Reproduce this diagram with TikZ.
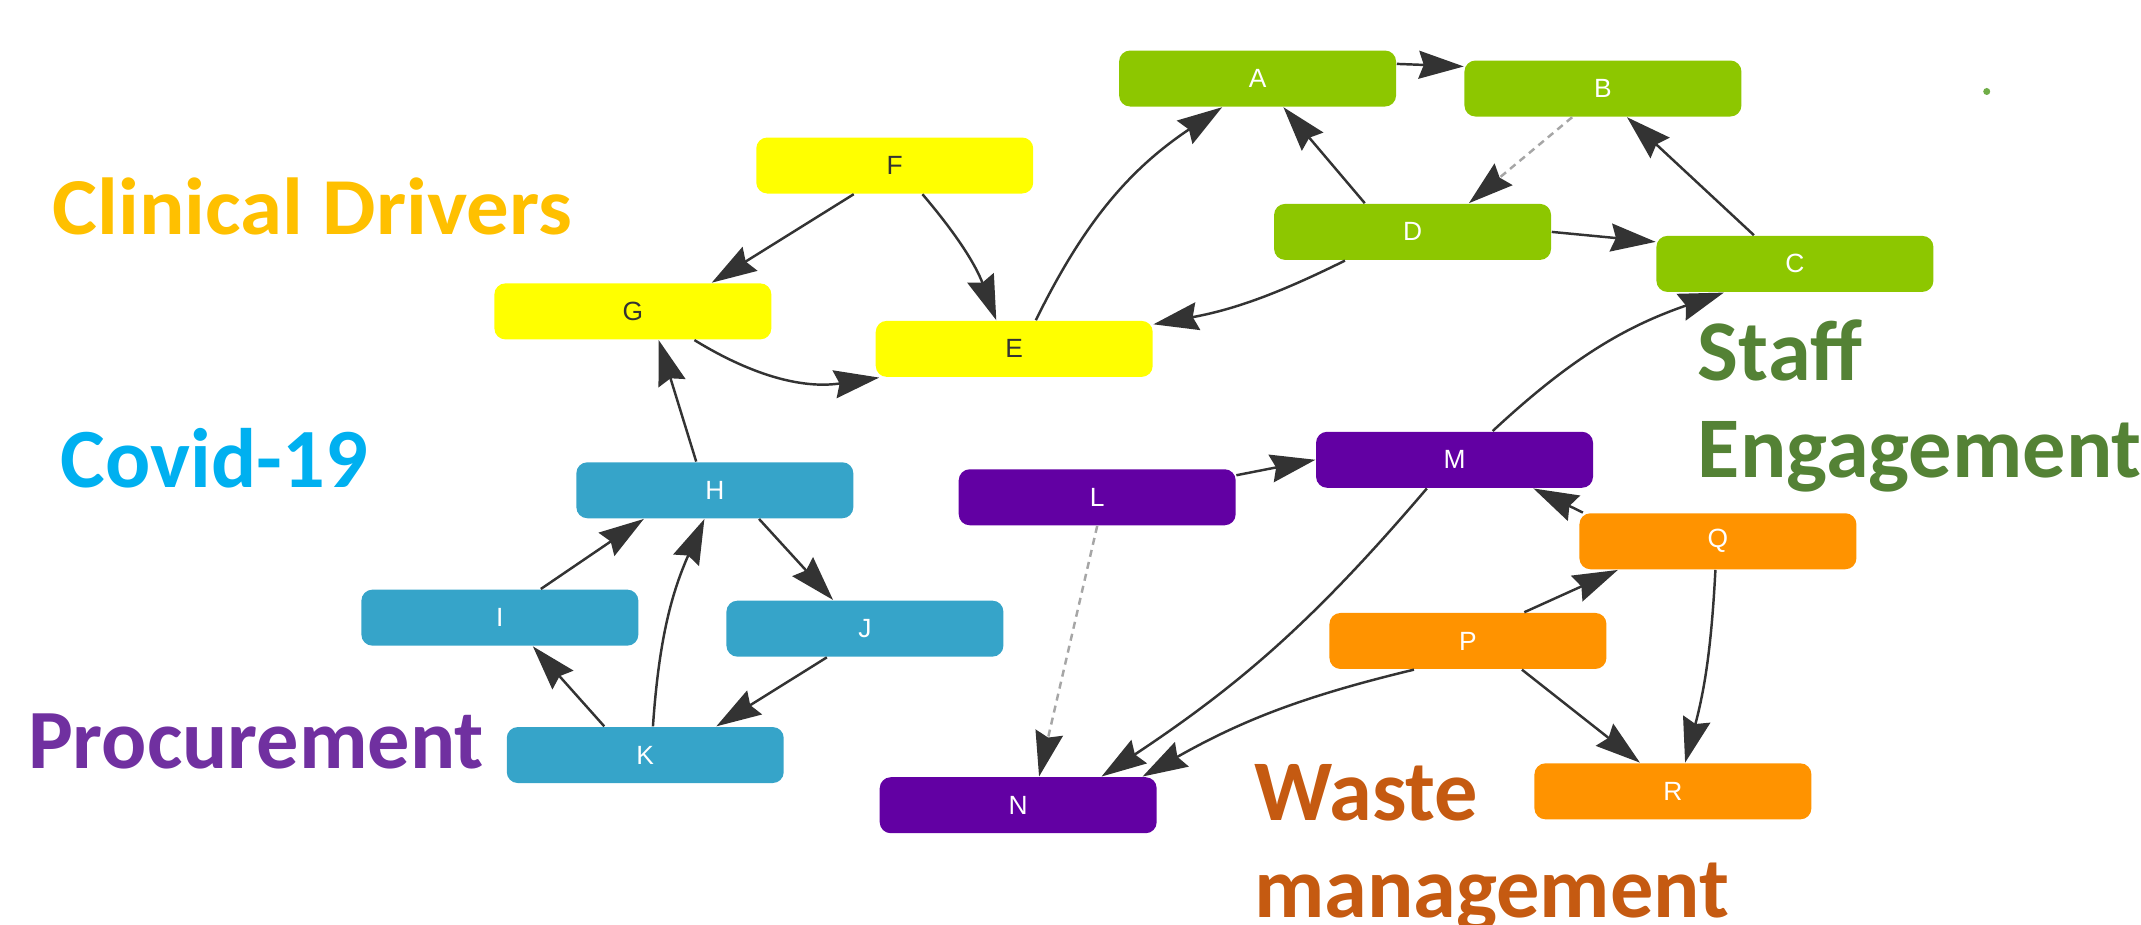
\documentclass[tikz,border=0pt]{standalone}
\usepackage{fontspec}
\setmainfont{Carlito}
\newfontfamily\boxfont{Liberation Sans}
\usepackage{tikz}
\usetikzlibrary{positioning,arrows.meta}
\definecolor{limefill}{HTML}{8DC700}
\definecolor{yellowfill}{HTML}{FFFF00}
\definecolor{tealfill}{HTML}{36A4C9}
\definecolor{violetfill}{HTML}{6200A3}
\definecolor{orangefill}{HTML}{FF9300}
\definecolor{edgegray}{HTML}{333333}
\definecolor{driverstext}{HTML}{FFC000}
\definecolor{covidtext}{HTML}{00B0F0}
\definecolor{procuretext}{HTML}{7030A0}
\definecolor{stafftext}{HTML}{548235}
\definecolor{wastetext}{HTML}{C55A11}
\definecolor{dotgreen}{HTML}{70AD47}
\tikzset{
  box/.style={rectangle, rounded corners=1.1mm, minimum width=2.77cm, minimum height=0.56cm,
              inner sep=0pt, font=\boxfont\fontsize{7.5}{9}\selectfont, text=white},
  limebox/.style={fill=limefill},
  yellowbox/.style={fill=yellowfill, text=black!80},
  tealbox/.style={fill=tealfill},
  violetbox/.style={fill=violetfill},
  orangebox/.style={fill=orangefill},
  fwd/.style={-{Stealth[length=4.5mm, width=2.8mm, inset=0.5mm]}, line width=0.7pt, draw=edgegray},
  promise/.style={-{Stealth[length=4.5mm, width=2.8mm, inset=0.5mm, color=edgegray]}, line width=0.7pt,
                  draw=gray!70, dash pattern=on 2pt off 1.5pt},
  group/.style={anchor=base west, inner sep=0pt, font=\bfseries},
}

\begin{document}
\begin{tikzpicture}[x=0.013655cm, y=0.013655cm]
  \useasboundingbox (0,0) rectangle (1568,677);

  % staff engagement
  \node[box, limebox] (nodeA) at (921,619.5) {A};
  \node[box, limebox] (nodeB) [right=0.67cm of nodeA, yshift=-0.1cm] {B};
  \node[box, limebox] (nodeD) [below=0.96cm of nodeA, xshift=1.55cm] {D};
  \node[box, limebox] (nodeC) [right=1.04cm of nodeD, yshift=-0.32cm] {C};

  % clinical drivers
  \node[box, yellowbox] (nodeE) [left=1.2cm of nodeD, yshift=-1.17cm] {E};
  \node[box, yellowbox] (nodeF) [above=1.26cm of nodeE, xshift=-1.195cm] {F};
  \node[box, yellowbox] (nodeG) [left=1.03cm of nodeE, yshift=0.375cm] {G};

  % covid-19
  \node[box, tealbox] (nodeH) [below=1.215cm of nodeG, xshift=0.82cm] {H};
  \node[box, tealbox] (nodeI) [below=0.7cm of nodeH, xshift=-2.15cm] {I};
  \node[box, tealbox] (nodeJ) [right=0.867cm of nodeI, yshift=-0.11cm] {J};
  \node[box, tealbox] (nodeK) [below=0.8cm of nodeI, xshift=1.454cm] {K};

  % procurement
  \node[box, violetbox] (nodeL) [right=1.04cm of nodeH, yshift=-0.07cm] {L};
  \node[box, violetbox] (nodeM) [right=0.79cm of nodeL, yshift=0.375cm] {M};
  \node[box, violetbox] (nodeN) [below=2.506cm of nodeL, xshift=-0.79cm] {N};

  % waste management
  \node[box, orangebox] (nodeQ) [below=2.2cm of nodeC, xshift=-0.77cm] {Q};
  \node[box, orangebox] (nodeP) [below=0.423cm of nodeQ, xshift=-2.5cm] {P};
  \node[box, orangebox] (nodeR) [below=0.93cm of nodeP, xshift=2.05cm] {R};

  \draw[fwd] (nodeA.6) -- (nodeB.171);
  \draw[fwd] (nodeD.149) -- (nodeA.-48);
  \draw[promise] (nodeB.223) -- (nodeD.27);
  \draw[fwd] (nodeD.east) -- (nodeC.171);
  \draw[fwd] (nodeC.145) -- (nodeB.-50);
  \draw[fwd] (nodeD.203) to[bend left=8] (nodeE.10);
  \draw[fwd] (nodeE.53) to[bend left=15] (nodeA.219);
  \draw[fwd] (nodeF.215) -- (nodeG.20);
  \draw[fwd] (nodeF.-46) to[bend left=10] (nodeE.122);
  \draw[fwd] (nodeG.-25) to[bend right=20] (nodeE.192);
  \draw[fwd] (nodeH.123) -- (nodeG.-48);
  \draw[fwd] (nodeI.35) -- (nodeH.202);
  \draw[fwd] (nodeK.145) -- (nodeI.-41);
  \draw[fwd] (nodeK.75) to[bend left=10] (nodeH.250);
  \draw[fwd] (nodeH.-33) -- (nodeJ.138);
  \draw[fwd] (nodeJ.217) -- (nodeK.22);
  \draw[fwd] (nodeL.9) -- (nodeM.west);
  \draw[promise] (nodeL.south) -- (nodeN.54);
  \draw[fwd] (nodeM.226) to[bend left=8] (nodeN.19);
  \draw[fwd] (nodeM.37) to[bend left=12] (nodeC.202);
  \draw[fwd] (nodeQ.168) -- (nodeM.-20);
  \draw[fwd] (nodeP.27) -- (nodeQ.196);
  \draw[fwd] (nodeP.208) to[bend right=8] (nodeN.13);
  \draw[fwd] (nodeP.-28) -- (nodeR.139);
  \draw[fwd] (nodeQ.-95) to[bend left=6] (nodeR.67);

  \node[group, text=driverstext, font=\bfseries\fontsize{23}{27}\selectfont] (labDrivers) at (38,505) {\scalebox{1.05}[1]{Clinical Drivers}};
  \node[group, text=covidtext, font=\bfseries\fontsize{24}{28}\selectfont] (labCovid) at (44,320) {Covid-19};
  \node[group, text=procuretext, font=\bfseries\fontsize{24}{28}\selectfont] (labProcure) at (20,114) {Procurement};
  \node[group, text=stafftext, font=\bfseries\fontsize{24.6}{28}\selectfont] (labStaff) at (1243,398) {Staff};
  \node[group, text=stafftext, font=\bfseries\fontsize{24.6}{28}\selectfont] (labEngage) at (1243,327) {Engagement};
  \node[group, text=wastetext, font=\bfseries\fontsize{24.6}{28}\selectfont] (labWaste) at (918,76) {Waste};
  \node[group, text=wastetext, font=\bfseries\fontsize{24.6}{28}\selectfont] (labMgmt) at (918,5) {management};
  \fill[dotgreen] (1455,610) circle (0.035cm);
\end{tikzpicture}
\end{document}
